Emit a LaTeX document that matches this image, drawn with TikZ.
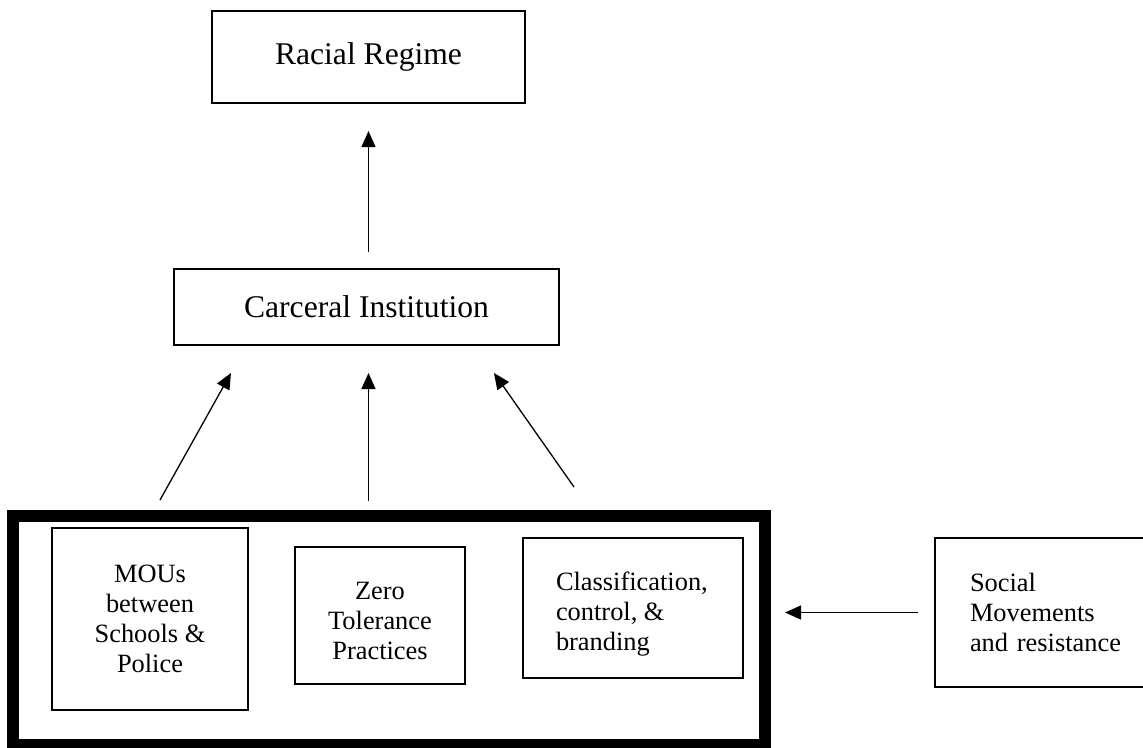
\documentclass[tikz,border=0pt]{standalone}
\usepackage{fontspec}
\setmainfont{Liberation Serif}
\usetikzlibrary{arrows.meta}
\begin{document}
\begin{tikzpicture}[x=1pt,y=-1pt,
  box/.style={draw,line width=2pt,outer sep=0pt,inner sep=0pt,rectangle},
  bigtext/.style={font=\fontsize{31.6}{36}\selectfont},
  smalltext/.style={font=\fontsize{26.4}{30}\selectfont},
  arr/.style={line width=1.3pt,-{Triangle[length=16pt,width=14pt]}}]
\useasboundingbox (0,0) rectangle (1143,747);
% top boxes
\node[box,bigtext,minimum width=313pt,minimum height=92pt] (racial) at (368.5,57) {Racial Regime};
\node[box,bigtext,minimum width=385pt,minimum height=76pt] (carceral) at (366.5,307) {Carceral Institution};
% group box
\node[draw,line width=12pt,outer sep=0pt,inner sep=0pt,minimum width=752pt,minimum height=229pt] (group) at (389,630.5) {};
% inner boxes
\node[box,smalltext,align=center,minimum width=196pt,minimum height=182pt] (mous) at (150,619) {MOUs\\between\\Schools \&\\Police};
\node[box,smalltext,minimum width=170pt,minimum height=137pt] (zero) at (380,615.5) {\raisebox{-8pt}[\height][\depth]{\begin{tabular}{@{}c@{}}Zero\\Tolerance\\Practices\end{tabular}}};
\node[box,smalltext,minimum width=220pt,minimum height=140pt] (class) at (633,608) {\raisebox{-6pt}[\height][\depth]{\begin{tabular}{@{}p{154pt}@{}}Classification,\\control, \&\\branding\end{tabular}}};
\node[box,smalltext,align=left,text width=155pt,inner xsep=35pt,inner ysep=0pt,minimum height=149pt] (social) at (1047.5,612.5) {Social\\Movements\\and resistance};
% free ends
\coordinate (s1) at (160,500);
\coordinate (t1) at (231,373);
\coordinate (s3) at (574,487);
\coordinate (t3) at (494,373);
% connectors
\draw[arr,shorten <=17pt,shorten >=28pt] (racial.south |- carceral.north) -- (racial.south);
\draw[arr] (s1) -- (t1);
\draw[arr,shorten <=15pt,shorten >=28pt] (racial.south |- group.north) -- (racial.south |- carceral.south);
\draw[arr] (s3) -- (t3);
\draw[arr,shorten <=17pt,shorten >=20pt] (social.west) -- (social.west -| group.east);
\end{tikzpicture}
\end{document}
